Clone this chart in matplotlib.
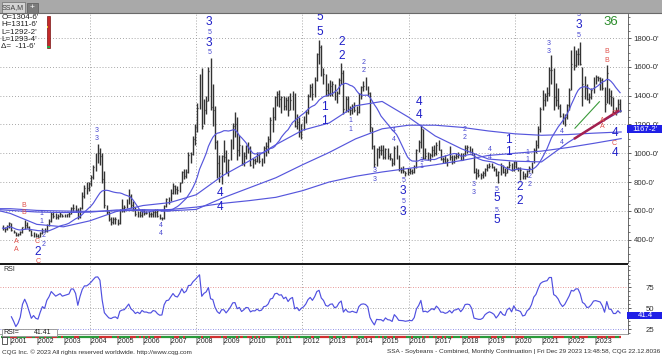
import numpy as np
import pandas as pd
import matplotlib
matplotlib.use("Agg")
import matplotlib.pyplot as plt
import matplotlib.transforms as mtransforms
from matplotlib.patches import Rectangle

plt.rcParams['font.family'] = ['Liberation Sans', 'DejaVu Sans']

W, H = 662, 357

# monthly bars, Sep 2000 .. Dec 2023 (cents/bu)
high = [
    505, 490, 500, 520,
    515, 470, 455, 445, 460, 490, 535, 525, 495, 470, 450, 445,
    440, 450, 480, 480, 510, 540, 590, 590, 585, 580, 590, 580,
    580, 580, 590, 625, 645, 640, 620, 630, 730, 780, 800, 800,
    850, 920, 1000, 1064, 1035, 1000, 880, 640, 600, 560, 555, 560,
    545, 615, 680, 640, 680, 750, 720, 670, 625, 600, 600, 615,
    615, 600, 600, 595, 605, 610, 610, 575, 560, 640, 690, 695,
    750, 790, 780, 770, 800, 880, 890, 890, 1010, 1010, 1120, 1200,
    1350, 1550, 1590, 1380, 1400, 1600, 1660, 1480, 1330, 1090, 990, 990,
    1090, 1020, 960, 1100, 1210, 1285, 1250, 1130, 1060, 1010, 1060, 1080,
    1050, 970, 970, 1010, 1000, 970, 1050, 1080, 1120, 1250, 1320, 1400,
    1435, 1440, 1400, 1400, 1390, 1400, 1420, 1436, 1420, 1270, 1250, 1200,
    1260, 1300, 1410, 1480, 1490, 1530, 1700, 1790, 1750, 1590, 1550, 1490,
    1510, 1500, 1480, 1430, 1520, 1630, 1580, 1400, 1400, 1330, 1340, 1355,
    1330, 1420, 1470, 1500, 1530, 1470, 1425, 1180, 1060, 1040, 1050, 1060,
    1060, 1040, 1040, 1000, 970, 1050, 1060, 985, 905, 910, 880, 900,
    895, 890, 920, 1030, 1090, 1195, 1170, 1040, 1010, 1000, 1050, 1060,
    1080, 1090, 1030, 975, 985, 965, 1050, 985, 985, 1000, 1010, 1000,
    1000, 1060, 1055, 1050, 1040, 1000, 900, 890, 860, 880, 900, 925,
    930, 935, 915, 900, 875, 935, 920, 895, 910, 945, 935, 945,
    945, 905, 905, 880, 860, 885, 910, 940, 1040, 1090, 1190, 1320,
    1440, 1420, 1460, 1600, 1680, 1590, 1490, 1450, 1340, 1280, 1270, 1345,
    1450, 1720, 1745, 1720, 1730, 1770, 1600, 1540, 1480, 1420, 1450, 1530,
    1545, 1540, 1530, 1520, 1460, 1615, 1450, 1440, 1390, 1320, 1380, 1375,
]
low = [
    468, 455, 465, 480,
    460, 445, 428, 425, 432, 445, 475, 480, 460, 425, 420, 416,
    418, 418, 440, 455, 455, 495, 525, 550, 545, 540, 555, 555,
    555, 555, 555, 575, 600, 595, 545, 550, 610, 690, 720, 740,
    770, 820, 880, 930, 920, 790, 620, 575, 530, 505, 510, 510,
    505, 510, 590, 595, 620, 650, 620, 600, 565, 560, 555, 560,
    570, 575, 560, 560, 560, 560, 560, 540, 537, 545, 625, 650,
    670, 715, 720, 720, 730, 790, 820, 830, 860, 930, 990, 1060,
    1150, 1310, 1170, 1200, 1270, 1360, 1300, 1190, 1030, 830, 800, 785,
    940, 860, 840, 950, 1030, 1110, 950, 980, 920, 910, 960, 1000,
    910, 900, 925, 940, 935, 910, 930, 980, 1000, 1080, 1150, 1230,
    1330, 1320, 1280, 1300, 1300, 1260, 1300, 1300, 1180, 1170, 1110, 1100,
    1160, 1210, 1270, 1390, 1370, 1390, 1500, 1620, 1540, 1480, 1400, 1400,
    1400, 1400, 1370, 1350, 1410, 1480, 1273, 1290, 1290, 1265, 1270, 1290,
    1265, 1280, 1380, 1430, 1440, 1400, 1150, 1030, 905, 910, 970, 990,
    960, 960, 960, 955, 915, 920, 960, 880, 860, 860, 845, 850,
    855, 855, 860, 900, 1010, 1040, 960, 960, 950, 945, 975, 980,
    990, 1020, 955, 935, 935, 915, 950, 925, 935, 960, 965, 950,
    950, 980, 1000, 1010, 990, 860, 820, 835, 820, 830, 845, 875,
    895, 900, 880, 845, 790, 850, 860, 845, 860, 900, 880, 880,
    900, 875, 815, 820, 820, 835, 870, 860, 930, 1000, 1040, 1150,
    1300, 1330, 1360, 1400, 1480, 1300, 1330, 1310, 1250, 1200, 1190, 1240,
    1300, 1440, 1580, 1600, 1610, 1610, 1330, 1380, 1370, 1350, 1380, 1420,
    1480, 1500, 1440, 1440, 1290, 1350, 1340, 1330, 1280, 1265, 1290, 1290,
]
close = [
    480, 475, 495, 515,
    465, 452, 432, 438, 450, 485, 505, 490, 465, 430, 440, 425,
    420, 445, 470, 462, 505, 530, 575, 565, 555, 565, 575, 565,
    570, 575, 580, 620, 620, 605, 555, 620, 700, 760, 760, 790,
    835, 905, 990, 1000, 980, 820, 640, 590, 540, 525, 540, 545,
    515, 605, 620, 625, 660, 700, 640, 615, 575, 590, 570, 605,
    585, 585, 575, 575, 595, 590, 565, 550, 552, 635, 680, 685,
    725, 770, 750, 745, 790, 870, 840, 870, 990, 995, 1100, 1185,
    1315, 1500, 1190, 1300, 1360, 1570, 1320, 1300, 1080, 930, 860, 980,
    975, 870, 950, 1050, 1190, 1200, 1020, 1060, 930, 980, 1050, 1040,
    920, 950, 945, 990, 945, 960, 1040, 1050, 1100, 1230, 1250, 1390,
    1410, 1380, 1390, 1330, 1370, 1300, 1370, 1400, 1190, 1220, 1150, 1200,
    1230, 1290, 1400, 1460, 1410, 1510, 1690, 1740, 1600, 1550, 1440, 1420,
    1470, 1480, 1400, 1420, 1510, 1560, 1310, 1380, 1310, 1300, 1320, 1300,
    1285, 1410, 1460, 1470, 1460, 1420, 1180, 1050, 925, 1030, 1020, 1020,
    975, 1030, 980, 970, 930, 1040, 980, 890, 885, 880, 865, 870,
    875, 870, 905, 1020, 1075, 1170, 970, 980, 960, 990, 1020, 1000,
    1060, 1025, 960, 960, 940, 950, 975, 940, 975, 980, 995, 955,
    985, 1040, 1045, 1040, 1000, 870, 860, 850, 850, 860, 890, 905,
    915, 905, 890, 850, 870, 900, 870, 860, 905, 920, 885, 940,
    900, 895, 885, 840, 845, 880, 895, 935, 1020, 1060, 1170, 1310,
    1370, 1400, 1420, 1580, 1580, 1390, 1370, 1330, 1260, 1210, 1250, 1335,
    1440, 1620, 1610, 1690, 1690, 1620, 1480, 1450, 1380, 1390, 1440, 1520,
    1530, 1520, 1510, 1450, 1340, 1560, 1400, 1390, 1290, 1290, 1345, 1293,
]

# slow moving averages at year marks
ma_years = [2000.6, 2001, 2002, 2003, 2004, 2005, 2006, 2007, 2008, 2009, 2010, 2011, 2012,
            2013, 2014, 2015, 2016, 2017, 2018, 2019, 2020, 2021, 2022, 2023, 2024]
ma48 = [600, 582, 506, 489, 531, 596, 637, 657, 712, 845, 947, 1060, 1160,
        1210, 1330, 1360, 1250, 1120, 1030, 960, 945, 940, 1075, 1190, 1295]
ma120 = [608, 603, 592, 588, 591, 606, 608, 600, 610, 690, 760, 830, 920,
         1005, 1100, 1170, 1195, 1195, 1180, 1155, 1135, 1125, 1130, 1140, 1148]
ma240 = [615, 615, 603, 599, 596, 600, 604, 609, 626, 652, 671, 694, 740,
         800, 840, 870, 895, 920, 950, 985, 1000, 1015, 1040, 1070, 1102]

# drawn trend lines
red_line_x, red_line_y = [2022.26, 2023.89], [1104, 1294]
green_line_x, green_line_y = [2022.26, 2023.18], [1174, 1358]

# wave count labels (date, price, text, kind)
wave_labels = [
    (2001.52, 634, "B", "red"), (2001.52, 585, "B", "red"),
    (2001.24, 386, "A", "red"), (2001.24, 333, "A", "red"),
    (2002.02, 386, "C", "red"), (2002.03, 314, "2", "big"), (2002.03, 247, "C", "red"),
    (2002.24, 432, "2", "small"), (2002.24, 363, "2", "small"),
    (2002.18, 583, "1", "small"), (2002.18, 525, "1", "small"),
    (2004.25, 1157, "3", "small"), (2004.25, 1104, "3", "small"),
    (2006.67, 495, "4", "small"), (2006.67, 444, "4", "small"),
    (2008.49, 1914, "3", "big"), (2008.49, 1841, "5", "small"),
    (2008.49, 1768, "3", "big"), (2008.49, 1699, "5", "small"),
    (2008.90, 724, "4", "big"), (2008.90, 627, "4", "big"),
    (2012.66, 1945, "5", "big"), (2012.66, 1845, "5", "big"),
    (2013.48, 1775, "2", "big"), (2013.48, 1676, "2", "big"),
    (2012.82, 1319, "1", "big"), (2012.82, 1226, "1", "big"),
    (2013.81, 1231, "1", "small"), (2013.81, 1162, "1", "small"),
    (2014.29, 1632, "2", "small"), (2014.29, 1574, "2", "small"),
    (2015.45, 1155, "4", "small"), (2015.45, 1096, "4", "small"),
    (2014.72, 877, "3", "small"), (2014.72, 821, "3", "small"),
    (2015.80, 814, "5", "small"), (2015.80, 738, "3", "big"),
    (2015.80, 664, "5", "small"), (2015.80, 594, "3", "big"),
    (2016.39, 1356, "4", "big"), (2016.39, 1266, "4", "big"),
    (2016.47, 953, "1", "small"), (2016.47, 908, "1", "small"),
    (2018.12, 1162, "2", "small"), (2018.12, 1113, "2", "small"),
    (2018.45, 786, "3", "small"), (2018.45, 726, "3", "small"),
    (2019.07, 1028, "4", "small"), (2019.07, 972, "4", "small"),
    (2019.30, 745, "5", "small"), (2019.30, 687, "5", "big"),
    (2019.30, 601, "5", "small"), (2019.30, 536, "5", "big"),
    (2019.74, 1092, "1", "big"), (2019.74, 1011, "1", "big"),
    (2020.20, 766, "2", "big"), (2020.20, 668, "2", "big"),
    (2020.47, 1002, "1", "small"), (2020.47, 960, "1", "small"),
    (2020.54, 839, "2", "small"), (2020.54, 783, "2", "small"),
    (2021.26, 1764, "3", "small"), (2021.26, 1706, "3", "small"),
    (2021.76, 1151, "4", "small"), (2021.76, 1078, "4", "small"),
    (2022.39, 1961, "3", "small"), (2022.39, 1891, "3", "big"), (2022.39, 1815, "5", "small"),
    (2023.45, 1706, "B", "red"), (2023.45, 1648, "B", "red"),
    (2023.29, 1231, "A", "red"), (2023.29, 1185, "A", "red"),
    (2023.73, 1278, "C", "red"), (2023.73, 1069, "C", "red"),
    (2023.77, 1139, "4", "big"), (2023.77, 1000, "4", "big"),
    (2023.61, 1914, "36", "green"),
]
label_style = {
    "big": dict(fontsize=8.6, color="#2020c8"),
    "small": dict(fontsize=5.0, color="#4848d0"),
    "red": dict(fontsize=5.0, color="#e0504a"),
    "green": dict(fontsize=9.5, color="#2a8c2a"),
}

legend_lines = ["O=1304-6'", "H=1311-6'", "L=1292-2'", "L=1293-4'", "\u0394=  -11-6'"]
price_box_value, price_box_text = 1167.25, "1167-2'"
rsi_last = 41.41
years = list(range(2001, 2024))

# ---- derived series
dates = pd.date_range("2000-09-01", periods=len(close), freq="MS")
x = np.asarray(dates.year + (dates.month - 0.5) / 12, dtype=float)
cs = pd.Series(close, dtype=float)
ma18 = cs.rolling(18, min_periods=1).mean()
delta = cs.diff()
gain = delta.clip(lower=0).ewm(alpha=1 / 14, min_periods=4).mean()
loss = (-delta.clip(upper=0)).ewm(alpha=1 / 14, min_periods=4).mean()
rsi = 100 - 100 / (1 + gain / loss)

XL = (2000.612, 2024.257)
MA_COLOR = "#5656dc"
GRID = "#8a8a8a"
BAR = "#333333"


def px_rect(x0, y0, x1, y1):
    return [x0 / W, 1 - y1 / H, (x1 - x0) / W, (y1 - y0) / H]


fig = plt.figure(figsize=(W / 100, H / 100), dpi=100)
fig.patch.set_facecolor("white")

# ---- price panel
ax = fig.add_axes(px_rect(0, 14, 628, 263))
ax.set_xlim(XL)
ax.set_ylim(237.6, 1967.6)
for v in range(400, 1900, 200):
    ax.axhline(v, color=GRID, lw=0.6, ls=(0, (1, 2.5)), zorder=0)
for yr in (2004, 2008, 2012, 2016, 2020):
    ax.axvline(yr, color=GRID, lw=0.6, ls=(0, (1, 2.5)), zorder=0)
gx, gy = np.meshgrid(np.arange(2001, 2025), np.arange(300, 2000, 100))
ax.scatter(gx.ravel(), gy.ravel(), s=0.4, c="#a0a0a0", marker="s", lw=0, zorder=0)

ax.vlines(x, low, high, color=BAR, lw=1.0, zorder=2)
ax.hlines(close, x, x + 0.035, color=BAR, lw=0.9, zorder=2)

ax.plot(x, ma18, color=MA_COLOR, lw=0.85, zorder=3)
ax.plot(ma_years, ma48, color=MA_COLOR, lw=0.85, zorder=3)
ax.plot(ma_years, ma120, color=MA_COLOR, lw=0.85, zorder=3)
ax.plot(ma_years, ma240, color=MA_COLOR, lw=0.85, zorder=3)
ax.plot(green_line_x, green_line_y, color="#3a9a3a", lw=0.8, zorder=4)
ax.plot(red_line_x, red_line_y, color="#a3204f", lw=1.8, zorder=4)

for lx, ly, t, kind in wave_labels:
    ax.text(lx, ly, t, ha="center", va="center", clip_on=True, zorder=5, **label_style[kind])

ax.yaxis.tick_right()
ax.set_yticks(range(400, 1900, 200))
ax.set_yticklabels([f"{v}-0'" for v in range(400, 1900, 200)])
ax.set_yticks(np.arange(250, 1951, 50), minor=True)
ax.tick_params(axis="y", which="major", direction="out", length=2.5, width=0.6,
               color="#404040", labelsize=5.6, labelcolor="#303030", pad=1.5)
ax.tick_params(axis="y", which="minor", direction="out", length=1.5, width=0.5, color="#404040")
ax.set_xticks([])
for s in ("top", "left", "bottom"):
    ax.spines[s].set_visible(False)
ax.spines["right"].set_color("#505050")
ax.spines["right"].set_linewidth(0.6)
ax.set_facecolor("white")

# last-value box on the price scale (sits over the 1200 label, as in CQG)
tr = mtransforms.blended_transform_factory(fig.transFigure, ax.transData)
bh = 7.5 / 0.14393
ax.add_patch(Rectangle((627 / W, price_box_value - bh / 2), 35 / W, bh, transform=tr,
                       fc="#1f1fe6", ec="none", clip_on=False, zorder=6))
ax.text(645 / W, price_box_value, price_box_text, transform=tr, ha="center", va="center",
        fontsize=5.6, color="white", clip_on=False, zorder=7)

# ---- RSI panel
axr = fig.add_axes(px_rect(0, 265, 628, 334))
axr.set_xlim(XL)
axr.set_ylim(19.4, 101.5)
axr.axhline(75, color="#e07878", lw=0.6, ls=(0, (1, 2)), zorder=0)
axr.axhline(50, color="#8c8c8c", lw=0.6, ls=(0, (1, 2)), zorder=0)
axr.axhline(25, color="#7070e0", lw=0.6, ls=(0, (1, 2)), zorder=0)
for yr in (2004, 2008, 2012, 2016, 2020):
    axr.axvline(yr, color=GRID, lw=0.6, ls=(0, (1, 2.5)), zorder=0)
rx, ry = np.meshgrid(np.arange(2001, 2025), [37.5, 62.5, 87.5])
axr.scatter(rx.ravel(), ry.ravel(), s=0.4, c="#a0a0a0", marker="s", lw=0, zorder=0)
axr.plot(x, rsi, color="#5050e0", lw=0.85, zorder=3)
axr.yaxis.tick_right()
axr.set_yticks([25, 50, 75])
axr.set_yticklabels(["25", "50", "75"])
axr.set_yticks(np.arange(20, 101, 5), minor=True)
axr.tick_params(axis="y", which="major", length=2.5, width=0.6, color="#404040",
                labelsize=5.6, labelcolor="#303030", pad=10)
axr.tick_params(axis="y", which="minor", length=1.5, width=0.5, color="#404040")
axr.set_xticks([])
for s in ("top", "left"):
    axr.spines[s].set_visible(False)
axr.spines["right"].set_color("#505050")
axr.spines["right"].set_linewidth(0.6)
axr.spines["bottom"].set_color("#909090")
axr.spines["bottom"].set_linewidth(0.6)

trr = mtransforms.blended_transform_factory(fig.transFigure, axr.transData)
rh = 7.5 / 0.84
axr.add_patch(Rectangle((627 / W, rsi_last - rh / 2), 35 / W, rh, transform=trr,
                        fc="#1f1fe6", ec="none", clip_on=False, zorder=6))
axr.text(645 / W, rsi_last, f"{rsi_last:.1f}", transform=trr, ha="center", va="center",
         fontsize=5.6, color="white", clip_on=False, zorder=7)

# ---- date strip
axd = fig.add_axes(px_rect(0, 334, 628, 346))
axd.set_xlim(XL)
axd.set_ylim(12, 0)
axd.axis("off")
up = np.r_[True, np.diff(close) >= 0]
axd.hlines(np.full(len(x), 2.5), x - 1 / 24, x + 1 / 24,
           colors=np.where(up, "#2a9a3a", "#d03030"), lw=1.6)
for yr in years:
    axd.text(yr - 0.02, 7.2, f"|{yr}", ha="left", va="center", fontsize=5.0, color="#202020")

# ---- overlay: tab bar, legend, footer
ov = fig.add_axes([0, 0, 1, 1])
ov.set_xlim(0, W)
ov.set_ylim(H, 0)
ov.axis("off")
ov.add_patch(Rectangle((0, 0), W, 13, fc="#a9a9a9", ec="none"))
ov.plot([0, W], [13.2, 13.2], color="#6a6a6a", lw=0.8)
ov.add_patch(Rectangle((1.5, 1.5), 23, 11, fc="#d4d4d4", ec="#7a7a7a", lw=0.6))
ov.text(13, 7.3, "SSA,M", ha="center", va="center", fontsize=5.0, color="#404040")
ov.add_patch(Rectangle((26.5, 2.5), 11, 10, fc="#7c7c7c", ec="#5a5a5a", lw=0.5))
ov.text(32, 7.5, "+", ha="center", va="center", fontsize=6, color="white")

for i, t in enumerate(legend_lines):
    ov.text(1.2, 17.5 + i * 7.25, t, ha="left", va="center", fontsize=5.8, color="#202020")
ov.add_patch(Rectangle((46.5, 15.5), 3.5, 32.5, fc="#c42a2a", ec="#7a1515", lw=0.5))
ov.add_patch(Rectangle((46.8, 25.5), 1.6, 2, fc="#e8c830", ec="none"))
ov.add_patch(Rectangle((46.8, 45.5), 3, 2.3, fc="#2aa84a", ec="none"))

ov.add_patch(Rectangle((0, 263), 628, 2, fc="#1a1a1a", ec="none"))
ov.text(3.5, 269.5, "RSI", ha="left", va="center", fontsize=5.0, color="#303030")
ov.add_patch(Rectangle((1.5, 328.5), 55, 7.5, fc="white", ec="#909090", lw=0.6))
ov.text(3, 332.3, "RSI=", ha="left", va="center", fontsize=5.0, color="#202020")
ov.text(51, 332.3, f"{rsi_last:.2f}", ha="right", va="center", fontsize=5.0, color="#202020")
ov.add_patch(Rectangle((2, 337), 5, 7, fc="white", ec="#404040", lw=0.6))

ov.text(2, 352, "CQG Inc. \u00a9 2023 All rights reserved worldwide. http://www.cqg.com",
        ha="left", va="center", fontsize=4.6, color="#303030")
ov.text(660, 352, "SSA - Soybeans - Combined, Monthly Continuation | Fri Dec 29 2023 13:48:58, CQG 22.12.8036",
        ha="right", va="center", fontsize=4.6, color="#303030")

fig.savefig("out.png", dpi=100)
